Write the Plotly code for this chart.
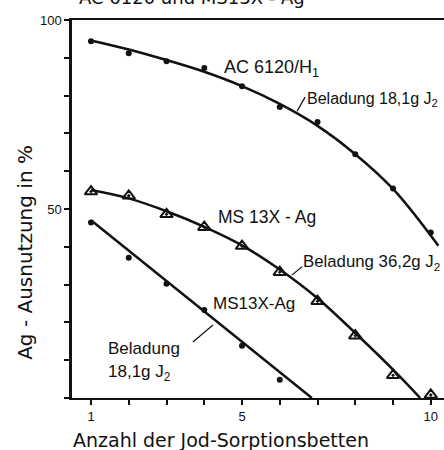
import plotly.graph_objects as go

# ---- data ----
beds = [1, 2, 3, 4, 5, 6, 7, 8, 9, 10]
ac6120_vals = [94.4, 91.2, 89.1, 87.3, 82.5, 77.0, 73.0, 64.5, 55.4, 43.8]
ms13x_36_vals = [54.6, 53.5, 48.6, 45.2, 40.2, 33.3, 25.6, 16.5, 6.0, 0.8]
ms13x_18_beds = [1, 2, 3, 4, 5, 6]
ms13x_18_vals = [46.4, 37.1, 30.2, 23.3, 13.8, 4.8]

# fitted curves
ac_curve_x = [1, 2, 3, 4, 5, 6, 7, 8, 9, 10.2]
ac_curve_y = [94.6, 92.2, 89.4, 86.3, 82.5, 77.8, 72.0, 64.5, 55.3, 40.3]
ms36_curve_x = [1, 2, 3, 4, 5, 6, 7, 8, 9, 9.72]
ms36_curve_y = [55.0, 52.8, 49.4, 45.3, 40.4, 34.0, 26.4, 17.2, 7.5, 0.0]
ms18_curve_x = [1, 6.85]
ms18_curve_y = [47.0, 0.0]

y_ticks = [0, 10, 20, 30, 40, 50, 60, 70, 80, 90, 100]
y_ticklabels = ["", "", "", "", "", "50", "", "", "", "", "100"]
x_ticks = [1, 2, 3, 4, 5, 6, 7, 8, 9, 10]
x_ticklabels = ["1", "", "", "", "5", "", "", "", "", "10"]

FONT = "Liberation Sans, Arial, sans-serif"
WIDE = "DejaVu Sans, Verdana, sans-serif"
BLACK = "#111111"

fig = go.Figure()
fig.add_trace(go.Scatter(x=ac_curve_x, y=ac_curve_y, mode="lines",
                         line=dict(color=BLACK, width=2.5, shape="spline"), hoverinfo="skip"))
fig.add_trace(go.Scatter(x=ms36_curve_x, y=ms36_curve_y, mode="lines",
                         line=dict(color=BLACK, width=2.5, shape="spline"), hoverinfo="skip"))
fig.add_trace(go.Scatter(x=ms18_curve_x, y=ms18_curve_y, mode="lines",
                         line=dict(color=BLACK, width=2.5), hoverinfo="skip"))
fig.add_trace(go.Scatter(x=beds, y=ac6120_vals, mode="markers",
                         marker=dict(symbol="circle", size=6, color=BLACK)))
fig.add_trace(go.Scatter(x=beds, y=ms13x_36_vals, mode="markers",
                         marker=dict(symbol="triangle-up-open-dot", size=11, color=BLACK,
                                     line=dict(width=2, color=BLACK))))
fig.add_trace(go.Scatter(x=ms13x_18_beds, y=ms13x_18_vals, mode="markers",
                         marker=dict(symbol="circle", size=6, color=BLACK)))

annots = [
    dict(x=4.48, y=87.3, text="AC 6120/H<sub>1</sub>", size=18),
    dict(x=6.67, y=79.0, text="Beladung 18,1g J<sub>2</sub>", size=16),
    dict(x=4.32, y=47.9, text="MS 13X - Ag", size=17.5),
    dict(x=6.56, y=35.9, text="Beladung 36,2g J<sub>2</sub>", size=16.8),
    dict(x=4.19, y=25.1, text="MS13X-Ag", size=17),
    dict(x=1.40, y=13.2, text="Beladung", size=17),
    dict(x=1.40, y=6.5, text="18,1g J<sub>2</sub>", size=17),
]
for a in annots:
    fig.add_annotation(x=a["x"], y=a["y"], text=a["text"], xref="x", yref="y",
                       xanchor="left", yanchor="middle", showarrow=False,
                       font=dict(size=a["size"], color=BLACK, family=FONT))

fig.add_annotation(x=0.323, y=1.027, xref="paper", yref="paper", text="AC 6120 und MS13X - Ag",
                   xanchor="center", yanchor="bottom", showarrow=False,
                   font=dict(size=18, color=BLACK, family=WIDE))
fig.add_annotation(x=-0.127, y=0.386, xref="paper", yref="paper", text="Ag - Ausnutzung in %",
                   textangle=-90, xanchor="center", yanchor="middle", showarrow=False,
                   font=dict(size=20, color=BLACK, family=WIDE))
fig.add_annotation(x=0.400, y=-0.110, xref="paper", yref="paper",
                   text="Anzahl der Jod-Sorptionsbetten",
                   xanchor="center", yanchor="middle", showarrow=False,
                   font=dict(size=19, color=BLACK, family=WIDE))

leaders = [((6.67, 79.6), (6.46, 75.9)), ((6.59, 34.7), (6.32, 32.5)), ((3.70, 14.8), (4.23, 19.3))]
for (x0, y0), (x1, y1) in leaders:
    fig.add_shape(type="line", x0=x0, y0=y0, x1=x1, y1=y1, xref="x", yref="y",
                  line=dict(color=BLACK, width=1.2))

fig.update_layout(
    width=444, height=450, margin=dict(l=72, r=0, t=20, b=52),
    paper_bgcolor="white", plot_bgcolor="white", showlegend=False,
    xaxis=dict(range=[0.497, 10.35], tickvals=x_ticks, ticktext=x_ticklabels,
               ticks="outside", ticklen=5, tickwidth=1.5, tickcolor=BLACK,
               showline=True, linecolor=BLACK, linewidth=2, mirror=True,
               showgrid=False, zeroline=False,
               tickfont=dict(size=13, color=BLACK, family=FONT)),
    yaxis=dict(range=[0, 100], tickvals=y_ticks, ticktext=y_ticklabels,
               ticks="outside", ticklen=5, tickwidth=1.5, tickcolor=BLACK,
               showline=True, linecolor=BLACK, linewidth=2.5,
               showgrid=False, zeroline=False,
               tickfont=dict(size=13, color=BLACK, family=FONT)),
)

fig.write_html("out.html")
